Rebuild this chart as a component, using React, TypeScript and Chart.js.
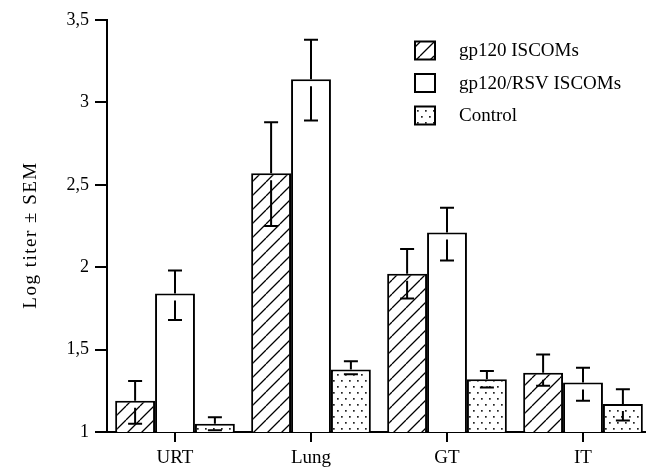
import React, { useEffect, useRef } from "react";
import { Chart, registerables } from "chart.js";

Chart.register(...registerables);

const categories = ["URT", "Lung", "GT", "IT"];
const seriesNames = ["gp120 ISCOMs", "gp120/RSV ISCOMs", "Control"];

const gp120 = [1.19, 2.57, 1.96, 1.36];
const gp120Hi = [1.31, 2.88, 2.11, 1.47];
const gp120Lo = [1.05, 2.25, 1.81, 1.28];

const gp120Rsv = [1.84, 3.14, 2.21, 1.3];
const gp120RsvHi = [1.98, 3.38, 2.36, 1.39];
const gp120RsvLo = [1.68, 2.89, 2.04, 1.19];

const control = [1.05, 1.38, 1.32, 1.17];
const controlHi = [1.09, 1.43, 1.37, 1.26];
const controlLo = [1.01, 1.35, 1.27, 1.07];

const yTickValues = [1, 1.5, 2, 2.5, 3, 3.5];
const yTickLabels = ["1", "1,5", "2", "2,5", "3", "3,5"];
const yTitle = "Log titer \u00B1 SEM";

const FONT = "'Liberation Serif', 'Times New Roman', serif";

function makeHatch(): CanvasPattern | string {
  const s = 14;
  const c = document.createElement("canvas");
  c.width = s;
  c.height = s;
  const g = c.getContext("2d");
  if (!g) return "#fff";
  g.fillStyle = "#fff";
  g.fillRect(0, 0, s, s);
  g.strokeStyle = "#000";
  g.lineWidth = 1.3;
  g.beginPath();
  for (let k = -1; k <= 1; k++) {
    g.moveTo(k * s, s);
    g.lineTo(k * s + s, 0);
  }
  g.stroke();
  return g.createPattern(c, "repeat") || "#fff";
}

function makeDots(): CanvasPattern | string {
  const w = 8;
  const h = 12;
  const c = document.createElement("canvas");
  c.width = w;
  c.height = h;
  const g = c.getContext("2d");
  if (!g) return "#fff";
  g.fillStyle = "#fff";
  g.fillRect(0, 0, w, h);
  g.fillStyle = "#222";
  g.fillRect(1, 2, 1.7, 1.7);
  g.fillRect(5, 8, 1.7, 1.7);
  return g.createPattern(c, "repeat") || "#fff";
}

const errorBarPlugin = {
  id: "errorBars",
  afterDatasetsDraw(chart: any) {
    const ctx = chart.ctx;
    const yScale = chart.scales.y;
    ctx.save();
    ctx.strokeStyle = "#000";
    ctx.lineWidth = 2;
    chart.data.datasets.forEach((ds: any, d: number) => {
      const meta = chart.getDatasetMeta(d);
      meta.data.forEach((bar: any, i: number) => {
        const x = bar.x;
        const top = bar.y;
        const yHi = yScale.getPixelForValue(ds.errHi[i]);
        const yLo = yScale.getPixelForValue(ds.errLo[i]);
        const cap = 7;
        ctx.beginPath();
        ctx.moveTo(x, yHi);
        ctx.lineTo(x, top);
        ctx.moveTo(x - cap, yHi);
        ctx.lineTo(x + cap, yHi);
        const gap = 7;
        if (yLo > top + gap) {
          ctx.moveTo(x, top + gap);
          ctx.lineTo(x, yLo);
        }
        if (yLo > top + 2) {
          ctx.moveTo(x - cap, yLo);
          ctx.lineTo(x + cap, yLo);
        }
        ctx.stroke();
      });
    });
    ctx.restore();
  },
};

const decorPlugin = {
  id: "decor",
  afterDraw(chart: any) {
    const ctx = chart.ctx;
    ctx.save();
    // y axis title
    ctx.translate(31, 235);
    ctx.rotate(-Math.PI / 2);
    ctx.fillStyle = "#000";
    ctx.font = `19px ${FONT}`;
    try {
      (ctx as any).letterSpacing = "1.5px";
    } catch (e) {}
    ctx.textAlign = "center";
    ctx.textBaseline = "middle";
    ctx.fillText(yTitle, 0, 0);
    ctx.restore();

    // legend
    ctx.save();
    const boxX = 415;
    const boxW = 20;
    const boxH = 18;
    const y0 = 50.5;
    const step = 32.5;
    ctx.font = `19px ${FONT}`;
    ctx.textAlign = "left";
    ctx.textBaseline = "middle";
    chart.data.datasets.forEach((ds: any, i: number) => {
      const cy = y0 + i * step;
      ctx.fillStyle = ds.backgroundColor;
      ctx.fillRect(boxX, cy - boxH / 2, boxW, boxH);
      ctx.strokeStyle = "#000";
      ctx.lineWidth = 2;
      ctx.strokeRect(boxX, cy - boxH / 2, boxW, boxH);
      ctx.fillStyle = "#000";
      ctx.fillText(ds.label, 459, cy + 1);
    });
    ctx.restore();
  },
};

export default function App() {
  const ref = useRef<HTMLCanvasElement | null>(null);

  useEffect(() => {
    const canvas = ref.current;
    if (!canvas) return;
    const hatch = makeHatch();
    const dots = makeDots();
    const chart = new Chart(canvas, {
      type: "bar",
      data: {
        labels: categories,
        datasets: [
          {
            label: seriesNames[0],
            data: gp120,
            errHi: gp120Hi,
            errLo: gp120Lo,
            backgroundColor: hatch,
            borderColor: "#000",
            borderWidth: 2,
          } as any,
          {
            label: seriesNames[1],
            data: gp120Rsv,
            errHi: gp120RsvHi,
            errLo: gp120RsvLo,
            backgroundColor: "#fff",
            borderColor: "#000",
            borderWidth: 2,
          } as any,
          {
            label: seriesNames[2],
            data: control,
            errHi: controlHi,
            errLo: controlLo,
            backgroundColor: dots,
            borderColor: "#000",
            borderWidth: 2,
          } as any,
        ],
      },
      options: {
        animation: false,
        responsive: false,
        devicePixelRatio: 1,
        datasets: {
          bar: { barPercentage: 1, categoryPercentage: 0.88 },
        },
        layout: { padding: { left: 0, top: 20, right: 1, bottom: 0 } },
        plugins: {
          legend: { display: false },
          tooltip: { enabled: false },
        },
        scales: {
          x: {
            offset: true,
            grid: {
              offset: false,
              drawOnChartArea: false,
              drawTicks: true,
              tickLength: 10,
              color: "#000",
              lineWidth: 2,
            },
            border: { display: true, color: "#000", width: 2 },
            ticks: {
              color: "#000",
              font: { family: FONT, size: 19 },
              padding: 5,
            },
            afterFit: (s: any) => {
              s.height = 43;
            },
          },
          y: {
            min: 1,
            max: 3.5,
            afterBuildTicks: (s: any) => {
              s.ticks = yTickValues.map((v) => ({ value: v }));
            },
            ticks: {
              color: "#000",
              font: { family: FONT, size: 18 },
              padding: 6,
              callback: (v: any) => {
                const idx = yTickValues.indexOf(Number(v));
                return idx >= 0 ? yTickLabels[idx] : "";
              },
            },
            grid: {
              drawOnChartArea: false,
              drawTicks: true,
              tickLength: 12,
              color: "#000",
              lineWidth: 2,
            },
            border: { display: true, color: "#000", width: 2 },
            afterFit: (s: any) => {
              s.width = 107;
            },
          },
        },
      } as any,
      plugins: [errorBarPlugin, decorPlugin],
    });
    return () => chart.destroy();
  }, []);

  return (
    <div
      style={{
        position: "fixed",
        left: 0,
        top: 0,
        width: 646,
        height: 475,
        overflow: "hidden",
        background: "#fff",
      }}
    >
      <canvas
        ref={ref}
        width={652}
        height={475}
        style={{ display: "block", width: 652, height: 475 }}
      />
    </div>
  );
}
